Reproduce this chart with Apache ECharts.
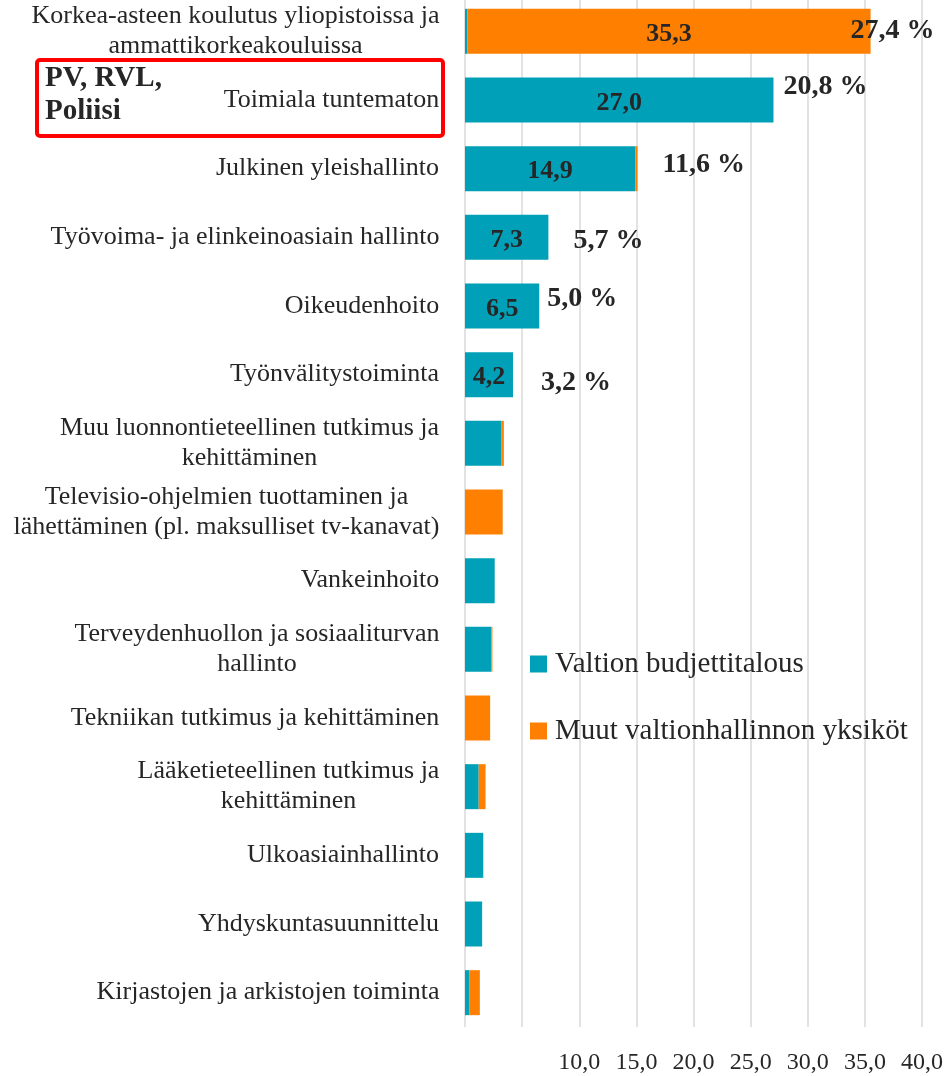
<!DOCTYPE html>
<html>
<head>
<meta charset="utf-8">
<script src="https://cdn.jsdelivr.net/npm/echarts@6/dist/echarts.min.js"></script>
<style>
  html, body { margin: 0; padding: 0; background: #fff; }
  #main { width: 945px; height: 1076px; }
</style>
</head>
<body>
<div id="main"></div>
<script>
const categories = [
  'Korkea-asteen koulutus yliopistoissa ja\nammattikorkeakouluissa',
  'Toimiala tuntematon',
  'Julkinen yleishallinto',
  'Työvoima- ja elinkeinoasiain hallinto',
  'Oikeudenhoito',
  'Työnvälitystoiminta',
  'Muu luonnontieteellinen tutkimus ja\nkehittäminen',
  'Televisio-ohjelmien tuottaminen ja\nlähettäminen (pl. maksulliset tv-kanavat)',
  'Vankeinhoito',
  'Terveydenhuollon ja sosiaaliturvan\nhallinto',
  'Tekniikan tutkimus ja kehittäminen',
  'Lääketieteellinen tutkimus ja\nkehittäminen',
  'Ulkoasiainhallinto',
  'Yhdyskuntasuunnittelu',
  'Kirjastojen ja arkistojen toiminta'
];
const valtionBudjetti = [0.2, 27.0, 14.9, 7.3, 6.5, 4.2, 3.2, 0, 2.6, 2.3, 0, 1.2, 1.6, 1.5, 0.4];
const muutYksikot = [35.3, 0, 0.2, 0, 0, 0, 0.2, 3.3, 0, 0.1, 2.2, 0.6, 0, 0, 0.9];
const osuusPros = [27.4, 20.8, 11.6, 5.7, 5.0, 3.2];

const TEAL = '#00A0B8';
const ORANGE = '#FF8000';
const TXT = '#262626';
const FONT = "'Liberation Serif', serif";
const fi = v => v.toFixed(1).replace('.', ',');

// share label nudges (px) relative to the end of each bar
const pctOffsets = [[-20, -1], [10, -13], [25, -4], [25, 3], [8, -7], [28, 8]];

// measure multi-line category labels so the lines can be centred in a block
const ctx = document.createElement('canvas').getContext('2d');
ctx.font = '26px ' + FONT;
const rich = {};
categories.forEach((c, i) => {
  const w = Math.max(...c.split('\n').map(l => ctx.measureText(l).width));
  rich['c' + i] = {width: Math.ceil(w) + 1, align: 'center', fontSize: 26, lineHeight: 30, fontFamily: FONT, color: TXT};
});

const pctData = osuusPros.map((p, i) => ({
  value: [valtionBudjetti[i] + muutYksikot[i], i],
  pct: p,
  label: {offset: pctOffsets[i]}
}));

const chart = echarts.init(document.getElementById('main'));
chart.setOption({
  animation: false,
  backgroundColor: '#fff',
  grid: {left: 465, right: 23, top: -3, bottom: 49, outerBoundsMode: 'none', containLabel: false},
  legend: {
    orient: 'vertical',
    left: 530,
    top: 649,
    padding: 0,
    itemWidth: 17,
    itemHeight: 17,
    itemGap: 37,
    icon: 'rect',
    data: ['Valtion budjettitalous', 'Muut valtionhallinnon yksiköt'],
    textStyle: {fontFamily: FONT, fontSize: 29, lineHeight: 30, color: TXT, padding: [0, 0, 0, 3]}
  },
  xAxis: {
    type: 'value',
    min: 0,
    max: 40,
    interval: 5,
    axisLine: {show: false},
    axisTick: {show: false},
    splitLine: {show: true, lineStyle: {color: '#D9D9D9', width: 1.5}},
    axisLabel: {
      margin: 24,
      fontFamily: FONT,
      fontSize: 24,
      color: TXT,
      formatter: v => (v < 10 ? '' : fi(v))
    }
  },
  yAxis: {
    type: 'category',
    inverse: true,
    data: categories,
    axisLine: {show: false},
    axisTick: {show: false},
    axisLabel: {
      interval: 0,
      margin: 25,
      formatter: (v, i) => v.split('\n').map(l => '{c' + i + '|' + l + '}').join('\n'),
      rich: rich
    }
  },
  series: [
    {
      name: 'Valtion budjettitalous',
      type: 'bar',
      stack: 'total',
      barWidth: 45,
      itemStyle: {color: TEAL},
      data: valtionBudjetti,
      label: {
        show: true,
        position: 'inside',
        offset: [0, 3],
        fontFamily: FONT,
        fontWeight: 'bold',
        fontSize: 26,
        color: TXT,
        formatter: p => (p.value >= 4 ? fi(p.value) : '')
      }
    },
    {
      name: 'Muut valtionhallinnon yksiköt',
      type: 'bar',
      stack: 'total',
      barWidth: 45,
      itemStyle: {color: ORANGE},
      data: muutYksikot,
      label: {
        show: true,
        position: 'inside',
        offset: [0, 3],
        fontFamily: FONT,
        fontWeight: 'bold',
        fontSize: 26,
        color: TXT,
        formatter: p => (p.value >= 10 ? fi(p.value) : '')
      }
    },
    {
      type: 'scatter',
      symbolSize: 0,
      silent: true,
      itemStyle: {opacity: 1},
      data: pctData,
      label: {
        show: true,
        position: 'right',
        distance: 0,
        opacity: 1,
        fontFamily: FONT,
        fontWeight: 'bold',
        fontSize: 28,
        color: TXT,
        formatter: p => fi(p.data.pct) + ' %'
      }
    }
  ],
  graphic: [
    {
      type: 'rect',
      shape: {x: 37, y: 60, width: 406, height: 76, r: 3},
      style: {fill: 'none', stroke: '#FF0000', lineWidth: 4}
    },
    {
      type: 'text',
      left: 45,
      top: 62,
      style: {
        text: 'PV, RVL,\nPoliisi',
        font: "bold 29px 'Liberation Serif', serif",
        lineHeight: 33,
        fill: TXT
      }
    }
  ]
});
</script>
</body>
</html>
